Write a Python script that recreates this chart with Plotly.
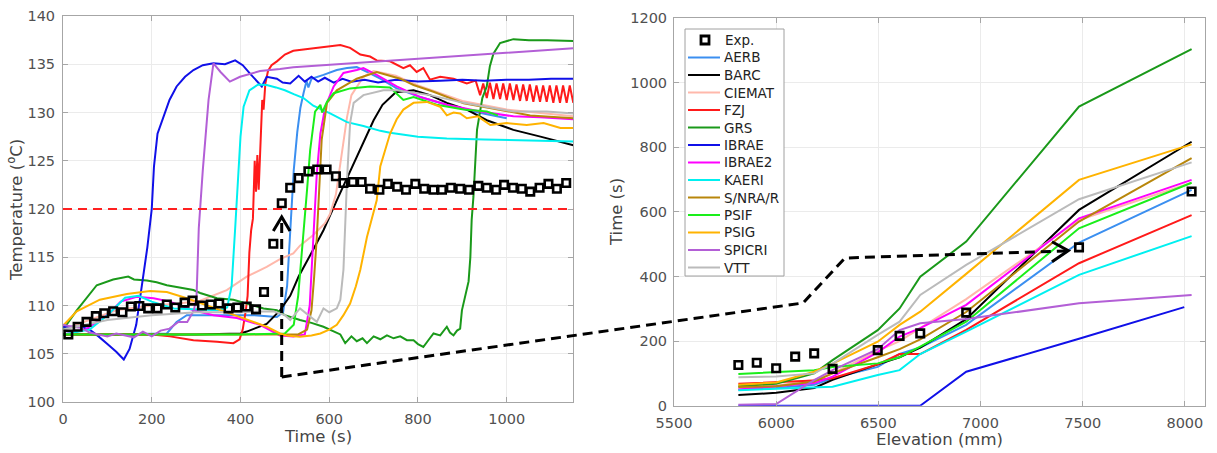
import plotly.graph_objects as go

W, H = 1217, 453

# ---------------- Left panel: temperature histories ----------------
threshold_T = 120

exp_t = [12, 33, 53, 74, 93, 113, 134, 153, 172, 192, 213, 234, 253, 274, 292, 313, 333, 352, 373, 393, 414, 435,
         453, 474, 493, 512, 531, 553, 573, 594, 615, 632, 653, 673, 692, 713, 732, 753, 773, 794, 814, 835, 854,
         874, 895, 915, 936, 955, 976, 994, 1014, 1034, 1053, 1074, 1094, 1113, 1134]
exp_T = [107.0, 107.8, 108.3, 108.9, 109.2, 109.4, 109.3, 109.9, 109.95, 109.7, 109.7, 110.1, 109.8, 110.3, 110.5,
         110.0, 110.1, 110.2, 109.7, 109.8, 109.9, 109.6, 111.4, 116.4, 120.6, 122.2, 123.2, 123.9, 124.1, 124.1,
         123.4, 122.7, 122.8, 122.8, 122.1, 122.0, 122.6, 122.3, 122.0, 122.6, 122.1, 122.0, 122.0, 122.2, 122.1,
         122.0, 122.4, 122.2, 122.0, 122.5, 122.2, 122.1, 121.8, 122.2, 122.6, 122.1, 122.7]

aerb_t = [0, 100, 234, 256, 279, 350, 429, 482, 496, 505, 512, 520, 528, 535, 542, 549, 553, 560, 587, 617, 640, 662,
          685, 715, 752, 805, 865, 925, 1000]
aerb_T = [107.0, 107.0, 107.1, 108.3, 109.0, 109.0, 109.0, 108.8, 109.3, 112.0, 117.8, 124.0, 128.0, 130.5, 132.0,
          133.3, 132.6, 133.5, 133.9, 134.4, 134.6, 134.7, 134.2, 133.5, 132.5, 131.6, 130.8, 130.1, 129.4]

barc_t = [0, 100, 200, 300, 400, 414, 459, 489, 512, 531, 564, 587, 617, 662, 700, 720, 750, 790, 827, 865, 910, 955,
          1015, 1076, 1150]
barc_T = [107.0, 107.0, 107.0, 107.0, 107.1, 107.3, 108.1, 109.5, 111.0, 113.0, 115.8, 117.8, 120.9, 125.4, 129.2,
          130.8, 132.1, 132.3, 131.8, 131.0, 130.3, 129.2, 128.2, 127.5, 126.6]

ciemat_t = [0, 60, 120, 200, 260, 309, 369, 414, 459, 489, 519, 534, 564, 590, 602, 615, 628, 640, 650, 677, 700,
            750, 800, 900, 1000, 1100, 1150]
ciemat_T = [107.5, 108.5, 109.5, 110.0, 110.2, 110.5, 111.6, 113.0, 114.0, 114.8, 115.4, 116.2, 117.3, 118.5, 119.5,
            121.5, 125.5, 129.5, 131.8, 133.7, 134.3, 133.8, 132.8, 131.2, 130.3, 129.8, 129.6]

fzj_t = [0, 100, 200, 241, 294, 347, 384, 398, 405, 412, 416, 420, 424, 428, 432, 435, 438, 441, 445, 449, 452, 456,
         462, 470, 482, 500, 519, 564, 600, 625, 647, 670, 692, 707, 737, 767, 782, 797, 812, 827, 850, 880, 910, 930,
         940, 947, 955, 962, 970, 977, 985, 992, 1000, 1007, 1015, 1022, 1030, 1037, 1045, 1052, 1060, 1067, 1075,
         1082, 1090, 1097, 1105, 1112, 1120, 1127, 1135, 1142, 1150]
fzj_T = [107.0, 107.0, 107.0, 106.8, 106.4, 106.25, 106.1, 106.5, 107.5, 109.5, 111.0, 115.5, 117.8, 119.0, 125.0,
         121.8, 125.6, 122.0, 127.5, 131.3, 130.3, 133.0, 134.3, 134.9, 135.3, 136.0, 136.4, 136.65, 136.9, 137.0,
         136.7, 136.0, 135.8, 135.4, 135.3, 134.6, 134.9, 134.2, 134.6, 133.4, 133.7, 133.5, 133.0, 133.3,
         131.8, 133.0, 131.5, 133.1, 131.4, 133.0, 131.4, 133.0, 131.3, 133.0, 131.3, 132.9, 131.2, 132.9, 131.2,
         132.9, 131.1, 132.8, 131.1, 132.8, 131.1, 132.8, 131.0, 132.8, 131.0, 132.8, 131.0, 132.8, 131.0]

grs_t = [0, 31, 76, 113, 147, 160, 189, 211, 234, 268, 294, 309, 347, 384, 414, 452, 482, 500, 534, 560, 587, 609,
         625, 636, 650, 662, 675, 685, 700, 715, 730, 745, 760, 775, 790, 800, 812, 825, 835, 850, 865, 872, 880, 888,
         895, 899, 906, 914, 918, 921, 925, 933, 945, 955, 962, 970, 985, 1015, 1050, 1091, 1150]
grs_T = [107.5, 109.5, 112.1, 112.7, 113.0, 112.7, 112.6, 112.4, 112.1, 111.8, 111.6, 111.3, 110.75, 110.6, 110.2,
         109.7, 109.5, 109.0, 108.5, 108.2, 107.8, 107.3, 107.0, 106.1, 106.8, 106.3, 106.6, 106.1, 106.8, 106.5,
         106.9, 106.6, 106.8, 106.4, 106.4, 106.0, 105.7, 106.5, 107.1, 106.9, 107.8, 107.2, 106.9, 107.4, 107.6,
         109.5, 111.0, 112.5, 115.0, 118.9, 121.3, 128.2, 131.5, 132.7, 134.8, 136.1, 137.2, 137.6, 137.5, 137.5,
         137.4]

ibrae_t = [0, 40, 60, 80, 100, 120, 137, 150, 165, 180, 190, 200, 205, 213, 226, 240, 256, 275, 294, 315, 339, 365,
           388, 405, 422, 435, 448, 459, 470, 482, 495, 512, 531, 545, 560, 575, 590, 610, 630, 650, 680, 710, 750,
           800, 850, 900, 950, 1000, 1050, 1100, 1150]
ibrae_T = [107.8, 107.8, 107.5, 106.8, 106.0, 105.2, 104.4, 105.5, 108.0, 112.5, 116.0, 120.0, 124.4, 127.8, 129.6,
           131.3, 132.7, 133.7, 134.4, 134.9, 135.1, 135.0, 135.4, 134.9, 134.0, 133.3, 132.7, 133.7, 133.6, 133.5,
           133.1, 133.0, 133.8, 133.2, 133.7, 133.2, 133.6, 133.1, 133.5, 133.2, 133.4, 133.1, 133.4, 133.2, 133.3,
           133.4, 133.3, 133.4, 133.4, 133.5, 133.5]

ibrae2_t = [0, 50, 100, 130, 166, 204, 241, 294, 339, 392, 444, 489, 519, 545, 556, 564, 572, 580, 591, 610, 632,
            662, 677, 707, 752, 805, 865, 940, 1015, 1075, 1150]
ibrae2_T = [107.0, 107.5, 109.0, 110.4, 110.9, 110.75, 110.4, 109.5, 109.0, 108.7, 108.0, 106.9, 106.8, 107.0, 110.0,
            117.1, 123.7, 127.8, 130.6, 132.7, 134.1, 134.4, 134.6, 133.9, 132.7, 131.6, 130.8, 130.1, 129.6, 129.5,
            129.3]

kaeri_t = [0, 60, 100, 140, 170, 200, 250, 300, 324, 350, 370, 380, 388, 395, 400, 407, 420, 440, 459, 480, 500, 520,
           542, 564, 602, 640, 677, 715, 737, 800, 865, 950, 1015, 1100, 1150]
kaeri_T = [107.0, 107.5, 109.0, 110.8, 111.0, 110.4, 109.7, 109.6, 109.5, 109.5, 109.8, 112.0, 118.0, 124.0, 127.5,
           130.6, 132.3, 132.9, 132.85, 132.6, 132.3, 131.9, 131.5, 130.7, 129.9, 129.0, 128.6, 128.1, 127.9, 127.5,
           127.3, 127.2, 127.15, 127.1, 127.0]

snrar_t = [0, 100, 200, 300, 400, 489, 530, 550, 560, 566, 572, 583, 595, 617, 662, 707, 760, 790, 835, 903, 978,
           1053, 1150]
snrar_T = [107.0, 107.0, 107.0, 107.0, 107.0, 107.0, 107.0, 107.5, 109.5, 113.0, 117.1, 127.2, 131.0, 132.3, 133.5,
           134.2, 133.5, 132.85, 132.15, 130.95, 130.3, 129.7, 129.4]

psif_t = [0, 200, 400, 500, 520, 530, 542, 550, 557, 568, 580, 584, 595, 610, 647, 692, 737, 767, 790, 842, 903, 955,
          980]
psif_T = [107.0, 107.0, 107.0, 107.1, 108.0, 111.0, 117.1, 122.0, 126.1, 130.1, 130.8, 130.0, 131.1, 132.0, 132.5,
          132.7, 132.6, 131.3, 131.6, 130.8, 130.3, 130.1, 129.7]

psig_t = [0, 31, 83, 144, 196, 234, 279, 339, 399, 459, 489, 504, 534, 560, 580, 600, 617, 632, 647, 660, 670, 685,
          696, 707, 715, 737, 752, 767, 790, 820, 850, 865, 880, 895, 910, 935, 963, 1000, 1045, 1083, 1121, 1150]
psig_T = [107.9, 109.4, 110.6, 111.2, 111.5, 111.4, 110.75, 109.8, 108.8, 107.8, 107.1, 106.9, 106.75, 106.9, 107.1,
          107.5, 108.0, 109.0, 110.2, 112.0, 113.7, 117.1, 118.9, 120.9, 124.4, 127.8, 129.3, 130.3, 131.0, 131.1,
          130.6, 129.7, 130.0, 129.9, 129.4, 129.6, 128.7, 128.9, 128.7, 128.9, 128.4, 128.4]

spicri_t = [0, 20, 40, 60, 80, 100, 120, 140, 160, 180, 200, 220, 240, 260, 280, 295, 301, 306, 315, 328, 339, 355,
            376, 399, 444, 489, 519, 1150]
spicri_T = [108.0, 107.8, 107.7, 107.2, 107.0, 106.8, 107.1, 106.9, 106.7, 107.3, 106.8, 107.4, 107.6, 108.3, 108.3,
            109.5, 111.0, 118.0, 124.0, 131.3, 135.1, 134.2, 133.2, 133.7, 134.3, 134.5, 134.7, 136.65]

vtt_t = [0, 100, 200, 300, 400, 474, 500, 512, 534, 557, 572, 587, 600, 617, 625, 632, 636, 640, 647, 655, 677, 722,
         752, 827, 903, 1015, 1090, 1150]
vtt_T = [107.5, 108.5, 109.0, 109.3, 109.3, 109.4, 109.0, 108.5, 109.7, 108.8, 108.3, 109.7, 109.3, 109.7, 110.6,
         113.7, 118.9, 123.0, 128.9, 131.0, 131.8, 132.3, 132.3, 131.8, 131.0, 130.1, 130.1, 129.9]

# ---------------- Right panel: arrival time vs elevation ----------------
exp_elev = [5815, 5905, 6000, 6093, 6186, 6276, 6497, 6604, 6705, 6930, 7482, 8033]
exp_time = [126, 133, 116, 152, 162, 114, 172, 216, 224, 288, 490, 663]

elev = [5815, 6000, 6186, 6276, 6497, 6604, 6705, 6930, 7482, 8033]
aerb_rt = [50, 55, 65, 85, 120, 160, 180, 250, 505, 668]
barc_rt = [33, 40, 55, 80, 128, 150, 180, 268, 606, 817]
ciemat_rt = [55, 62, 80, 100, 170, 200, 240, 330, 575, 690]
fzj_rt = [68, 72, 78, 85, 128, 160, 160, 235, 441, 590]
grs_rt = [60, 68, 100, 141, 234, 301, 399, 508, 926, 1104]
ibrae_elev = [5815, 6000, 6186, 6276, 6497, 6604, 6705, 6930, 7482, 7997]
ibrae_rt = [0, 0, 0, 0, 0, 0, 0, 105, 207, 305]
ibrae2_rt = [50, 60, 70, 90, 165, 214, 240, 312, 580, 699]
kaeri_rt = [48, 52, 55, 59, 95, 110, 160, 229, 405, 525]
snrar_rt = [58, 60, 75, 100, 150, 175, 205, 290, 570, 766]
psif_rt = [98, 105, 110, 120, 131, 150, 183, 260, 549, 690]
psig_rt = [65, 72, 105, 130, 198, 250, 291, 408, 699, 809]
spicri_rt = [3, 5, 79, 110, 175, 234, 255, 268, 317, 343]
vtt_rt = [88, 90, 100, 130, 219, 260, 343, 436, 639, 753]

names = ["AERB", "BARC", "CIEMAT", "FZJ", "GRS", "IBRAE", "IBRAE2", "KAERI", "S/NRA/R", "PSIF", "PSIG", "SPICRI", "VTT"]
colors = ["#3b8ff0", "#000000", "#ffb8ab", "#ff1a1a", "#1a991a", "#1010e8", "#ff00ff", "#00f0f0", "#b8860b",
          "#1aee1a", "#ffb300", "#b35fd6", "#bbbbbb"]
left_t = [aerb_t, barc_t, ciemat_t, fzj_t, grs_t, ibrae_t, ibrae2_t, kaeri_t, snrar_t, psif_t, psig_t, spicri_t, vtt_t]
left_T = [aerb_T, barc_T, ciemat_T, fzj_T, grs_T, ibrae_T, ibrae2_T, kaeri_T, snrar_T, psif_T, psig_T, spicri_T, vtt_T]
right_x = [elev, elev, elev, elev, elev, ibrae_elev, elev, elev, elev, elev, elev, elev, elev]
right_y = [aerb_rt, barc_rt, ciemat_rt, fzj_rt, grs_rt, ibrae_rt, ibrae2_rt, kaeri_rt, snrar_rt, psif_rt, psig_rt,
           spicri_rt, vtt_rt]

# ---------------- Figure ----------------
fig = go.Figure()
for n, c, tx, ty in zip(names, colors, left_t, left_T):
    fig.add_trace(go.Scatter(x=tx, y=ty, mode="lines", name=n, line=dict(color=c, width=2),
                             xaxis="x", yaxis="y", showlegend=False))
for n, c, ex, ey in zip(names, colors, right_x, right_y):
    fig.add_trace(go.Scatter(x=ex, y=ey, mode="lines", name=n, line=dict(color=c, width=2),
                             xaxis="x2", yaxis="y2", showlegend=False))

sq = dict(symbol="square-open", size=7.5, color="black", line=dict(width=2.6, color="black"))
fig.add_trace(go.Scatter(x=exp_t, y=exp_T, mode="markers", name="Exp.", marker=sq, xaxis="x", yaxis="y",
                         showlegend=False))
fig.add_trace(go.Scatter(x=exp_elev, y=exp_time, mode="markers", name="Exp.", marker=sq, xaxis="x2", yaxis="y2",
                         showlegend=False))


def px(x):
    return x / W


def py(y):
    return 1 - y / H


AX = "#a6a6a6"
GRID = "#ebebeb"
TICKFONT = dict(family="DejaVu Sans", size=14.5, color="#505050")
common = dict(showline=True, linecolor=AX, linewidth=1, mirror="ticks", ticks="inside", ticklen=5, tickcolor=AX,
              showgrid=True, gridcolor=GRID, gridwidth=1, zeroline=False, tickfont=TICKFONT, automargin=False)

fig.update_layout(
    width=W, height=H, margin=dict(l=0, r=0, t=0, b=0),
    paper_bgcolor="white", plot_bgcolor="white", showlegend=False,
    xaxis=dict(domain=[px(63), px(573.3)], range=[0, 1150], tickvals=[0, 200, 400, 600, 800, 1000],
               anchor="y", ticklabelstandoff=4, **common),
    yaxis=dict(domain=[py(402), py(16)], range=[100, 140], tickvals=[100, 105, 110, 115, 120, 125, 130, 135, 140],
               anchor="x", ticklabelstandoff=4, **common),
    xaxis2=dict(domain=[px(674), px(1205.3)], range=[5500, 8100], tickvals=[5500, 6000, 6500, 7000, 7500, 8000],
                anchor="y2", ticklabelstandoff=4, **common),
    yaxis2=dict(domain=[py(405.7), py(18)], range=[0, 1200], tickvals=[0, 200, 400, 600, 800, 1000, 1200],
                anchor="x2", ticklabelstandoff=3, **common),
)

shapes = []
# threshold line
shapes.append(dict(type="line", xref="x", yref="y", x0=0, x1=1150, y0=threshold_T, y1=threshold_T,
                   line=dict(color="#ff2020", width=2, dash="9px,6px")))
# dashed connector between panels
path_pts = [(281.7, 377), (803, 303), (845, 258), (1066, 251)]
d = "M " + " L ".join(f"{px(a)},{py(b)}" for a, b in path_pts)
shapes.append(dict(type="path", xref="paper", yref="paper", path=d,
                   line=dict(color="black", width=3, dash="10px,6px")))
shapes.append(dict(type="line", xref="paper", yref="paper", x0=px(281.7), y0=py(377), x1=px(281.7), y1=py(219),
                   line=dict(color="black", width=3, dash="10px,6px")))
# arrow heads
for pts in ([(273.3, 231), (281.7, 217), (290, 231)], [(1052, 241.7), (1068.3, 250.7), (1052, 261.7)]):
    dd = "M " + " L ".join(f"{px(a)},{py(b)}" for a, b in pts)
    shapes.append(dict(type="path", xref="paper", yref="paper", path=dd, line=dict(color="black", width=3)))

# custom legend
LX0, LX1, LY0, LY1 = 685, 784, 29, 276
shapes.append(dict(type="rect", xref="paper", yref="paper", x0=px(LX0), x1=px(LX1), y0=py(LY1), y1=py(LY0),
                   line=dict(color="#a0a0a0", width=1), fillcolor="white"))
annotations = []
LFONT = dict(family="DejaVu Sans", size=13.5, color="#222222")
row_y = [40 + i * 17.5 for i in range(len(names) + 1)]
shapes.append(dict(type="rect", xref="paper", yref="paper", x0=px(701), x1=px(709), y0=py(44), y1=py(36),
                   line=dict(color="black", width=2.8)))
annotations.append(dict(x=px(723), y=py(row_y[0]), xref="paper", yref="paper", text="Exp.", showarrow=False,
                        xanchor="left", yanchor="middle", font=LFONT))
for i, (n, c) in enumerate(zip(names, colors), start=1):
    shapes.append(dict(type="line", xref="paper", yref="paper", x0=px(688), x1=px(720), y0=py(row_y[i]),
                       y1=py(row_y[i]), line=dict(color=c, width=2)))
    annotations.append(dict(x=px(722), y=py(row_y[i]), xref="paper", yref="paper", text=n, showarrow=False,
                            xanchor="left", yanchor="middle", font=LFONT))

TFONT = dict(family="DejaVu Sans", size=16.5, color="#444444")
annotations += [
    dict(x=px(318), y=py(436), xref="paper", yref="paper", text="Time (s)", showarrow=False, font=TFONT,
         xanchor="center", yanchor="middle"),
    dict(x=px(940), y=py(439.5), xref="paper", yref="paper", text="Elevation (mm)", showarrow=False, font=TFONT,
         xanchor="center", yanchor="middle"),
    dict(x=px(15), y=py(210), xref="paper", yref="paper", text="Temperature (<sup>o</sup>C)", showarrow=False,
         textangle=-90, font=TFONT, xanchor="center", yanchor="middle"),
    dict(x=px(617), y=py(212), xref="paper", yref="paper", text="Time (s)", showarrow=False, textangle=-90,
         font=TFONT, xanchor="center", yanchor="middle"),
]

fig.update_layout(shapes=shapes, annotations=annotations)
fig.write_html("out.html", config={"displayModeBar": False},
               post_script="document.body.style.margin='0';")
